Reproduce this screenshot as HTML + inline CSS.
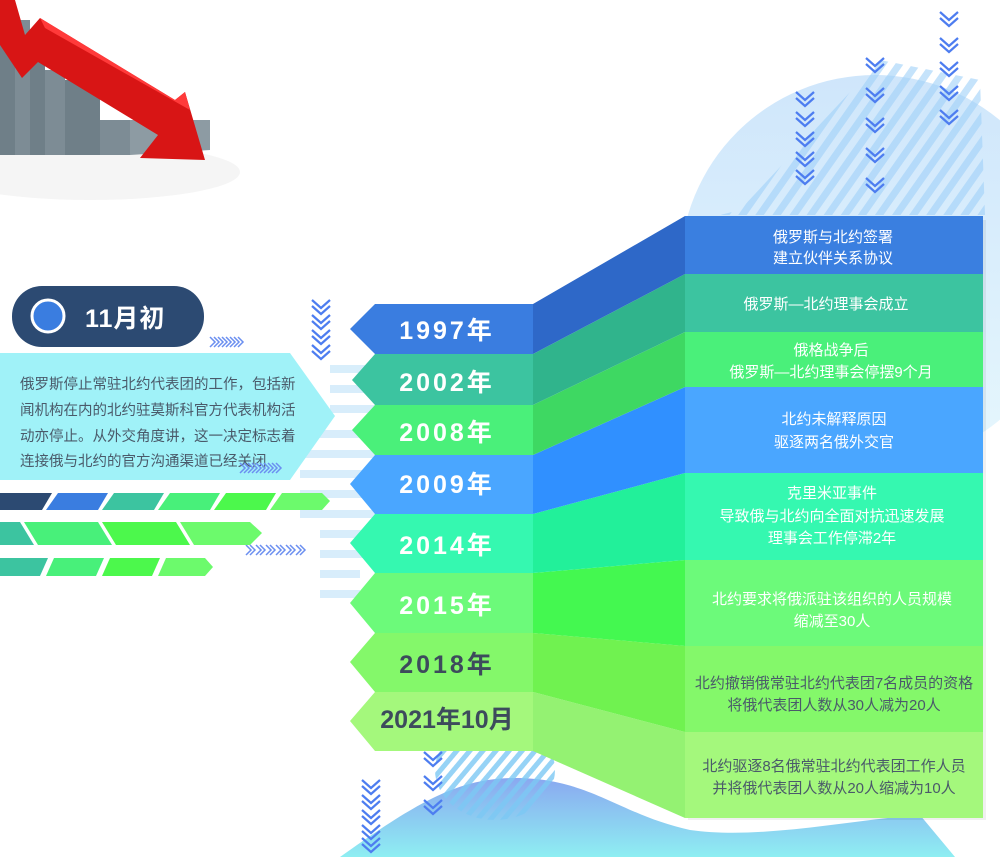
<!DOCTYPE html>
<html><head><meta charset="utf-8"><style>
html,body{margin:0;padding:0;background:#fff;}
svg{display:block;}
text{font-family:"Liberation Sans","Noto Sans CJK SC",sans-serif;}
</style></head><body>
<svg width="1000" height="857" viewBox="0 0 1000 857" xmlns="http://www.w3.org/2000/svg">
<defs>
<linearGradient id="mound" x1="0" y1="0" x2="0" y2="1"><stop offset="0" stop-color="#8aa8f0"/><stop offset="1" stop-color="#8eeef2"/></linearGradient>
<linearGradient id="circ" x1="0" y1="0" x2="0" y2="1"><stop offset="0" stop-color="#cfe6fb"/><stop offset="1" stop-color="#e6f7fd"/></linearGradient>
<pattern id="hatch" width="14" height="14" patternUnits="userSpaceOnUse" patternTransform="rotate(35)"><rect width="7" height="14" fill="#9fd0f8"/></pattern>
<pattern id="hatch2" width="10" height="10" patternUnits="userSpaceOnUse" patternTransform="rotate(40)"><rect width="5" height="10" fill="#7cc8f4"/></pattern>
<g id="chev"><path d="M0,0 L9,8 L18,0 M0,6 L9,14 L18,6" fill="none" stroke="#4d7df0" stroke-width="2.2"/></g>
<g id="chevR"><path d="M0,0 L5,5 L0,10 M4,0 L9,5 L4,10" fill="none" stroke="#6b8ff0" stroke-width="1.5"/></g>
</defs>

<circle cx="875" cy="270" r="195" fill="url(#circ)"/>
<path d="M740,210 L880,60 L980,80 L985,215 L720,215 Z" fill="url(#hatch)" opacity="0.6"/>
<g>
<use href="#chev" x="796" y="92"/><use href="#chev" x="796" y="112"/><use href="#chev" x="796" y="132"/><use href="#chev" x="796" y="152"/><use href="#chev" x="796" y="170"/>
<use href="#chev" x="866" y="58"/><use href="#chev" x="866" y="88"/><use href="#chev" x="866" y="118"/><use href="#chev" x="866" y="148"/><use href="#chev" x="866" y="178"/>
<use href="#chev" x="940" y="12"/><use href="#chev" x="940" y="38"/><use href="#chev" x="940" y="62"/><use href="#chev" x="940" y="86"/><use href="#chev" x="940" y="110"/>
</g>

<!-- top-left chart image approximation -->
<ellipse cx="90" cy="172" rx="150" ry="28" fill="#f5f5f5"/>
<path d="M0,10 L15,10 L15,155 L0,155 Z" fill="#6f7f88"/>
<path d="M15,20 L30,20 L30,155 L15,155Z" fill="#7d8c95"/>
<path d="M30,60 L45,60 L45,155 L30,155Z" fill="#6f7f88"/>
<path d="M45,70 L65,70 L65,155 L45,155Z" fill="#7d8c95"/>
<path d="M65,80 L100,80 L100,155 L65,155Z" fill="#6f7f88"/>
<path d="M100,120 L130,120 L130,155 L100,155Z" fill="#7d8c95"/>
<path d="M130,120 L210,120 L210,150 L130,155Z" fill="#8d9ba3"/>
<path d="M0,0 L15,0 L25,35 L40,18 L175,100 L185,92 L205,160 L140,158 L158,135 L38,62 L22,78 L0,45 Z" fill="#d81515"/>
<path d="M40,18 L175,100 L185,92 L190,110 L45,28Z" fill="#ff3a3a"/>

<path d="M340,857 C420,800 460,778 515,778 C590,778 620,815 690,830 C760,840 850,820 920,815 L955,857 Z" fill="url(#mound)"/>
<ellipse cx="495" cy="770" rx="60" ry="50" fill="url(#hatch2)" opacity="0.8"/>
<g>
<use href="#chev" x="424" y="752"/><use href="#chev" x="424" y="776"/><use href="#chev" x="424" y="800"/>
<use href="#chev" x="362" y="780"/><use href="#chev" x="362" y="795"/><use href="#chev" x="362" y="810"/><use href="#chev" x="362" y="825"/><use href="#chev" x="362" y="838"/>
</g>

<g fill="#d4ecfb" opacity="0.9">
<rect x="330" y="365" width="50" height="8"/><rect x="330" y="385" width="50" height="8"/><rect x="330" y="405" width="50" height="8"/>
<rect x="300" y="430" width="80" height="8"/><rect x="300" y="450" width="80" height="8"/><rect x="300" y="470" width="80" height="8"/>
<rect x="300" y="490" width="80" height="8"/><rect x="300" y="510" width="80" height="8"/><rect x="320" y="530" width="60" height="8"/><rect x="320" y="550" width="60" height="8"/>
<rect x="320" y="570" width="40" height="8"/><rect x="320" y="590" width="40" height="8"/>
</g>
<g>
<use href="#chev" x="312" y="300"/><use href="#chev" x="312" y="315"/><use href="#chev" x="312" y="330"/><use href="#chev" x="312" y="345"/>
</g>
<g><use href="#chevR" x="210" y="337"/><use href="#chevR" x="218" y="337"/><use href="#chevR" x="226" y="337"/><use href="#chevR" x="234" y="337"/>
<use href="#chevR" x="246" y="545"/><use href="#chevR" x="256" y="545"/><use href="#chevR" x="266" y="545"/><use href="#chevR" x="276" y="545"/><use href="#chevR" x="286" y="545"/><use href="#chevR" x="296" y="545"/></g>

<rect x="12" y="286" width="192" height="61" rx="30" fill="#2c4a72"/>
<circle cx="48" cy="316" r="16" fill="#3a7de0" stroke="#fff" stroke-width="3"/>
<text x="85" y="327" font-size="25" font-weight="bold" fill="#fff" letter-spacing="1">11月初</text>
<path d="M0,353 L290,353 L335,416 L290,480 L0,480 Z" fill="#a0f2f8"/>
<g font-size="14.5" fill="#4a5a6a">
<text x="20" y="389">俄罗斯停止常驻北约代表团的工作，包括新</text>
<text x="20" y="415">闻机构在内的北约驻莫斯科官方代表机构活</text>
<text x="20" y="441">动亦停止。从外交角度讲，这一决定标志着</text>
<text x="20" y="466">连接俄与北约的官方沟通渠道已经关闭</text>
</g>
<g><use href="#chevR" x="240" y="463"/><use href="#chevR" x="248" y="463"/><use href="#chevR" x="256" y="463"/><use href="#chevR" x="264" y="463"/><use href="#chevR" x="272" y="463"/></g>
<g>
<path d="M0,493 L52,493 L42,510 L0,510Z" fill="#2c4a72"/>
<path d="M58,493 L108,493 L98,510 L46,510Z" fill="#3a7de0"/>
<path d="M114,493 L164,493 L154,510 L102,510Z" fill="#3cc4a0"/>
<path d="M170,493 L220,493 L210,510 L158,510Z" fill="#48f07a"/>
<path d="M226,493 L276,493 L266,510 L214,510Z" fill="#4cf84c"/>
<path d="M282,493 L322,493 L330,501 L322,510 L270,510Z" fill="#6cfa6c"/>
<path d="M0,522 L20,522 L34,545 L0,545Z" fill="#3cc4a0"/>
<path d="M24,522 L98,522 L112,545 L38,545Z" fill="#48f07a"/>
<path d="M102,522 L176,522 L190,545 L116,545Z" fill="#4cf84c"/>
<path d="M180,522 L250,522 L262,533 L250,545 L194,545Z" fill="#6cfa6c"/>
<path d="M0,558 L48,558 L40,576 L0,576Z" fill="#3cc4a0"/>
<path d="M54,558 L104,558 L96,576 L46,576Z" fill="#48f07a"/>
<path d="M110,558 L160,558 L152,576 L102,576Z" fill="#4cf84c"/>
<path d="M166,558 L205,558 L213,567 L205,576 L158,576Z" fill="#6cfa6c"/>
</g>

<rect x="688" y="220" width="298" height="600" fill="#000" opacity="0.06"/>
<rect x="685" y="216" width="298" height="58" fill="#3a7fe0"/>
<rect x="685" y="274" width="298" height="58" fill="#3cc4a0"/>
<rect x="685" y="332" width="298" height="55" fill="#4af07a"/>
<rect x="685" y="387" width="298" height="86" fill="#4aa6ff"/>
<rect x="685" y="473" width="298" height="87" fill="#35f8b0"/>
<rect x="685" y="560" width="298" height="86" fill="#6cfa7a"/>
<rect x="685" y="646" width="298" height="86" fill="#84f86a"/>
<rect x="685" y="732" width="298" height="86" fill="#a4f87c"/>

<path d="M533,692 L685,732 L685,818 L533,751Z" fill="#94f272"/>
<path d="M533,633 L685,646 L685,732 L533,692Z" fill="#70f250"/>
<path d="M533,573 L685,560 L685,646 L533,633Z" fill="#44f850"/>
<path d="M533,514 L685,473 L685,560 L533,573Z" fill="#22f09a"/>
<path d="M533,455 L685,387 L685,473 L533,514Z" fill="#3090ff"/>
<path d="M533,405 L685,332 L685,387 L533,455Z" fill="#3ed862"/>
<path d="M533,354 L685,274 L685,332 L533,405Z" fill="#30b48c"/>
<path d="M533,304 L685,216 L685,274 L533,354Z" fill="#2e68c8"/>

<path d="M375,692 L533,692 L533,751 L375,751 L350,721Z" fill="#a4f87c"/>
<path d="M375,633 L533,633 L533,692 L375,692 L350,662Z" fill="#84f86a"/>
<path d="M375,573 L533,573 L533,633 L375,633 L350,603Z" fill="#6cfa7a"/>
<path d="M375,514 L533,514 L533,573 L375,573 L350,543Z" fill="#35f8b0"/>
<path d="M375,455 L533,455 L533,514 L375,514 L350,484Z" fill="#4aa6ff"/>
<path d="M375,405 L533,405 L533,455 L375,455 L352,430Z" fill="#4af07a"/>
<path d="M375,354 L533,354 L533,405 L375,405 L352,380Z" fill="#3cc4a0"/>
<path d="M375,304 L533,304 L533,354 L375,354 L350,329Z" fill="#3a7de0"/>

<g font-size="25" font-weight="bold" fill="#fff" text-anchor="middle" letter-spacing="3">
<text x="447" y="339">1997年</text>
<text x="447" y="391">2002年</text>
<text x="447" y="441">2008年</text>
<text x="447" y="493">2009年</text>
<text x="447" y="554">2014年</text>
<text x="447" y="614">2015年</text>
<text x="447" y="673" fill="#3d4b5c">2018年</text>
<text x="447" y="728" fill="#3d4b5c" letter-spacing="0">2021年10月</text>
</g>

<g font-size="15" fill="#fff" text-anchor="middle">
<text x="833" y="242">俄罗斯与北约签署</text>
<text x="833" y="263">建立伙伴关系协议</text>
<text x="826" y="309">俄罗斯—北约理事会成立</text>
<text x="831" y="355">俄格战争后</text>
<text x="831" y="377">俄罗斯—北约理事会停摆9个月</text>
<text x="834" y="424">北约未解释原因</text>
<text x="834" y="447">驱逐两名俄外交官</text>
<text x="832" y="498">克里米亚事件</text>
<text x="832" y="521">导致俄与北约向全面对抗迅速发展</text>
<text x="832" y="543">理事会工作停滞2年</text>
<text x="832" y="604">北约要求将俄派驻该组织的人员规模</text>
<text x="832" y="626">缩减至30人</text>
<g fill="#4a5a6a">
<text x="834" y="688">北约撤销俄常驻北约代表团7名成员的资格</text>
<text x="834" y="710">将俄代表团人数从30人减为20人</text>
<text x="834" y="771">北约驱逐8名俄常驻北约代表团工作人员</text>
<text x="834" y="793">并将俄代表团人数从20人缩减为10人</text>
</g>
</g>
</svg>
</body></html>
